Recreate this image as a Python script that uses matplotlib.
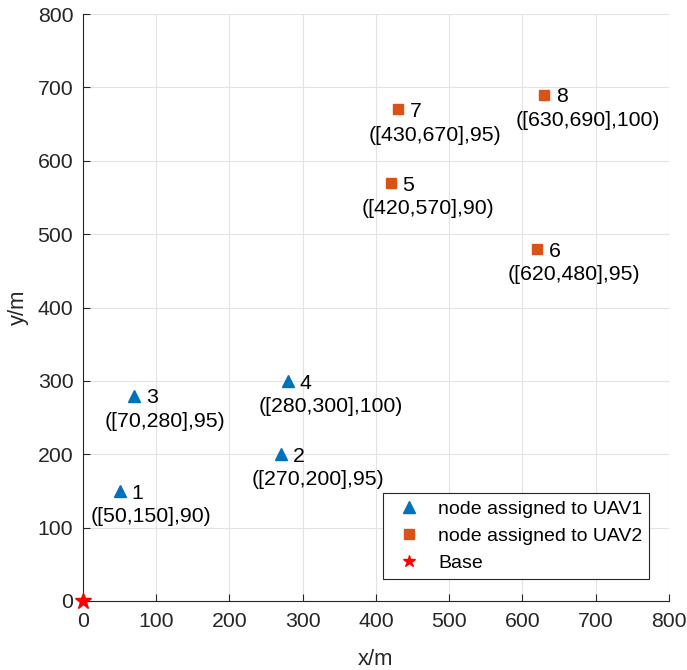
import matplotlib.pyplot as plt
import numpy as np

plt.rcParams['font.family'] = ['Liberation Sans', 'DejaVu Sans']

# nodes (x, y, value) per UAV
ids1 = [1, 2, 3, 4]
x1 = np.array([50, 270, 70, 280])
y1 = np.array([150, 200, 280, 300])
v1 = [90, 95, 95, 100]

ids2 = [5, 6, 7, 8]
x2 = np.array([420, 620, 430, 630])
y2 = np.array([570, 480, 670, 690])
v2 = [90, 95, 95, 100]

base_x, base_y = [0], [0]

c_blue = '#0072BD'
c_orange = '#D95319'
fs = 15.3

fig = plt.figure(figsize=(6.87, 6.70), dpi=100)
ax = fig.add_axes([0.1208, 0.103, 0.853, 0.876])

ax.plot(x1, y1, '^', color=c_blue, ms=9, ls='none', label='node assigned to UAV1', zorder=3)
ax.plot(x2, y2, 's', color=c_orange, ms=7, ls='none', label='node assigned to UAV2', zorder=3)
ax.plot(base_x, base_y, '*', color='red', ms=12, ls='none', label='Base', clip_on=False, zorder=4)

# labels next to nodes
for ids, xs, ys, vs in [(ids1, x1, y1, v1), (ids2, x2, y2, v2)]:
    for i, x, y, v in zip(ids, xs, ys, vs):
        ax.text(x + 16, y - 3, str(i), fontsize=fs, ha='left', va='center')
        ax.text(x - 40, y - 35, '([%d,%d],%d)' % (x, y, v), fontsize=fs, ha='left', va='center')

ax.set_xlim(0, 800)
ax.set_ylim(0, 800)
ax.set_xticks(np.arange(0, 801, 100))
ax.set_yticks(np.arange(0, 801, 100))
ax.grid(True, color='#e3e3e3', linewidth=0.8)
ax.set_axisbelow(True)
ax.spines['top'].set_visible(False)
ax.spines['right'].set_visible(False)
for s in ['left', 'bottom']:
    ax.spines[s].set_color('#262626')
    ax.spines[s].set_linewidth(0.8)
ax.tick_params(direction='in', length=5, width=0.8, colors='#262626', labelsize=fs, labelcolor='#262626')
ax.tick_params(axis='x', pad=8)
ax.tick_params(axis='y', pad=7)

ax.set_xlabel('x/m', fontsize=fs + 0.5, color='#262626', labelpad=13)
ax.set_ylabel('y/m', fontsize=fs + 0.5, color='#262626', labelpad=6)

leg = ax.legend(loc='lower right', bbox_to_anchor=(0.966, 0.0375), borderaxespad=0,
                fontsize=14, fancybox=False, edgecolor='#262626', framealpha=1,
                handlelength=2.0, handletextpad=0.5, labelspacing=0.5, borderpad=0.35)
leg.get_frame().set_linewidth(0.8)
leg.legend_handles[2].set_markersize(9)

plt.savefig('out.png', dpi=100)
